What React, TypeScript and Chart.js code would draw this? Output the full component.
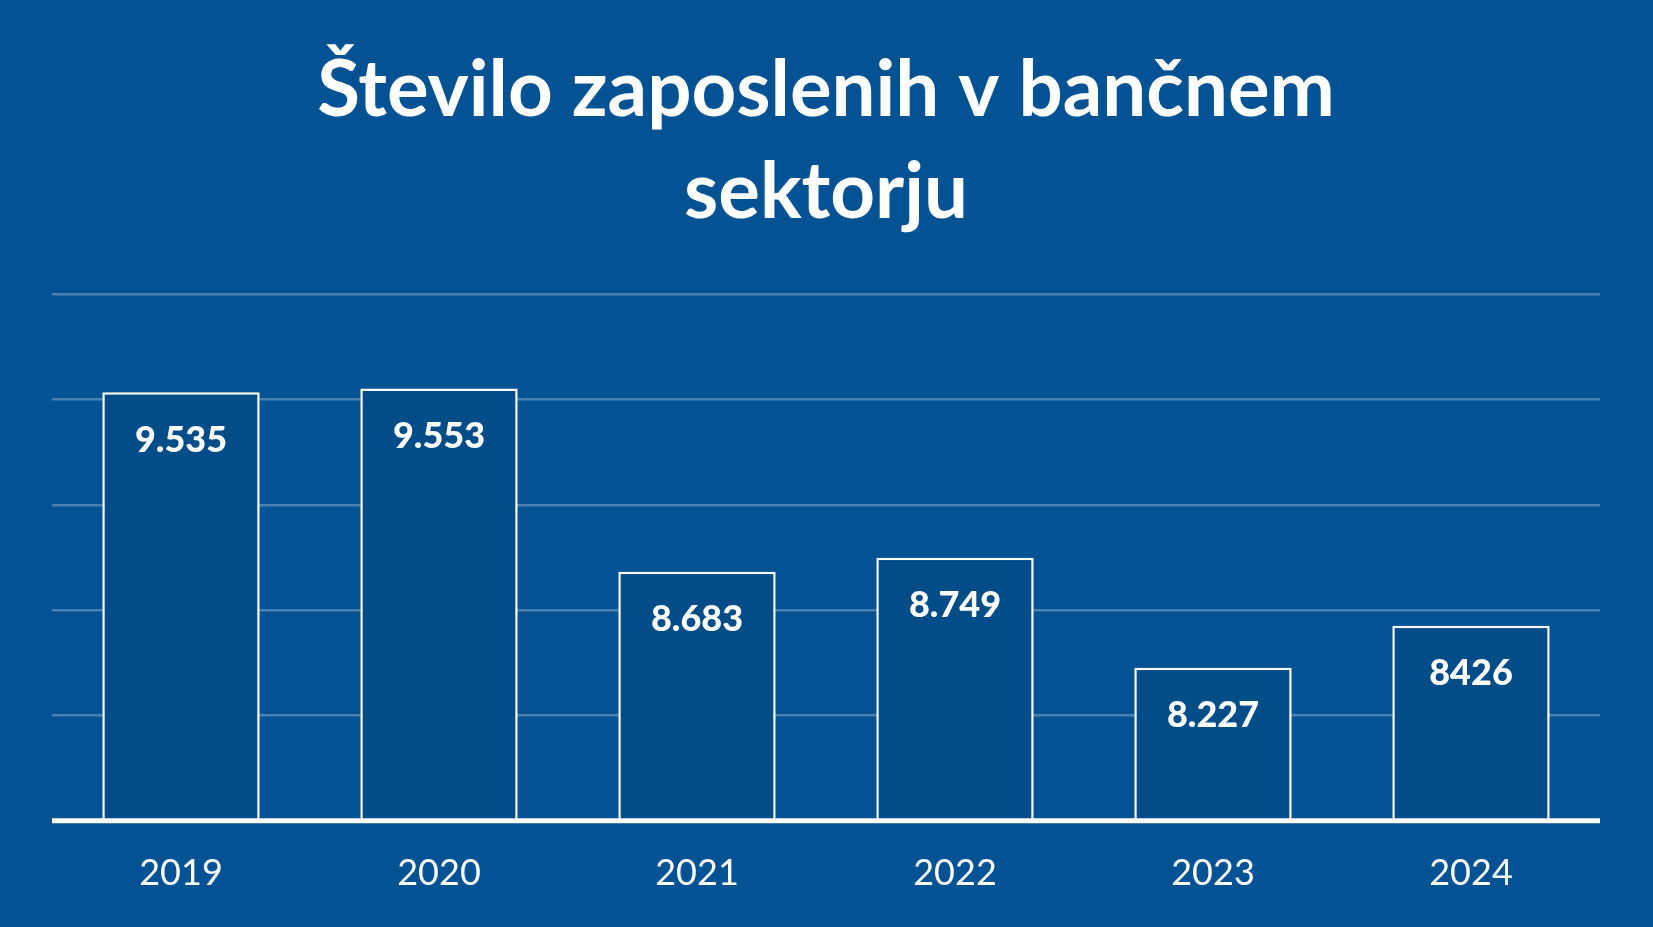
import React, { useEffect, useRef } from "react";
import { Chart, registerables } from "chart.js";
Chart.register(...registerables);

const categories = ["2019", "2020", "2021", "2022", "2023", "2024"];
const values = [9535, 9553, 8683, 8749, 8227, 8426];
const valueLabels = ["9.535", "9.553", "8.683", "8.749", "8.227", "8426"];
const titleLines = ["Število zaposlenih v bančnem", "sektorju"];
const yMin = 7500;
const yMax = 10000;
const yStep = 500;

const BG = "#035394";
const BAR = "#024C88";
const FONT = "Lato";

export default function App() {
  const ref = useRef<HTMLCanvasElement>(null);
  useEffect(() => {
    document.body.style.margin = "0";
    const bgPlugin = {
      id: "bg",
      beforeDraw(chart: any) {
        const ctx = chart.ctx;
        ctx.save();
        ctx.fillStyle = BG;
        ctx.fillRect(0, 0, chart.width, chart.height);
        ctx.restore();
      },
    };
    const labelPlugin = {
      id: "vlabels",
      afterDatasetsDraw(chart: any) {
        const ctx = chart.ctx;
        const meta = chart.getDatasetMeta(0);
        ctx.save();
        // axis baseline over the bars
        const yb = chart.scales.y.getPixelForValue(yMin);
        ctx.strokeStyle = "#ffffff";
        ctx.lineWidth = 5;
        ctx.beginPath();
        ctx.moveTo(chart.chartArea.left, yb);
        ctx.lineTo(chart.chartArea.right, yb);
        ctx.stroke();
        ctx.fillStyle = "#ffffff";
        ctx.font = `900 36px ${FONT}`;
        ctx.textAlign = "center";
        ctx.textBaseline = "middle";
        meta.data.forEach((el: any, i: number) => {
          ctx.fillText(valueLabels[i], el.x, el.y + 48);
        });
        ctx.restore();
      },
    };
    const chart = new Chart(ref.current as HTMLCanvasElement, {
      type: "bar",
      data: {
        labels: categories,
        datasets: [
          {
            data: values,
            backgroundColor: BAR,
            borderColor: "#ffffff",
            borderWidth: 2.5,
            categoryPercentage: 1,
            barPercentage: 0.61,
          },
        ],
      },
      options: {
        responsive: false,
        animation: false,
        layout: { padding: { left: 52, right: 53, top: 0, bottom: 9 } },
        plugins: {
          legend: { display: false },
          tooltip: { enabled: false },
          title: {
            display: true,
            text: titleLines,
            color: "#ffffff",
            font: { family: FONT, size: 78, weight: "bold", lineHeight: 1.31 },
            padding: { top: 40, bottom: 50 },
          },
        },
        scales: {
          x: {
            grid: { display: false },
            border: { display: false },
            ticks: { color: "#ffffff", font: { family: FONT, size: 36 }, padding: 23 },
          },
          y: {
            min: yMin,
            max: yMax,
            ticks: { display: false, stepSize: yStep },
            grid: { color: "rgba(255,255,255,0.28)", lineWidth: 2.5, drawTicks: false },
            border: { display: false },
          },
        },
      },
      plugins: [bgPlugin, labelPlugin],
    } as any);
    return () => chart.destroy();
  }, []);
  return <canvas ref={ref} width={1653} height={927} style={{ display: "block" }} />;
}
